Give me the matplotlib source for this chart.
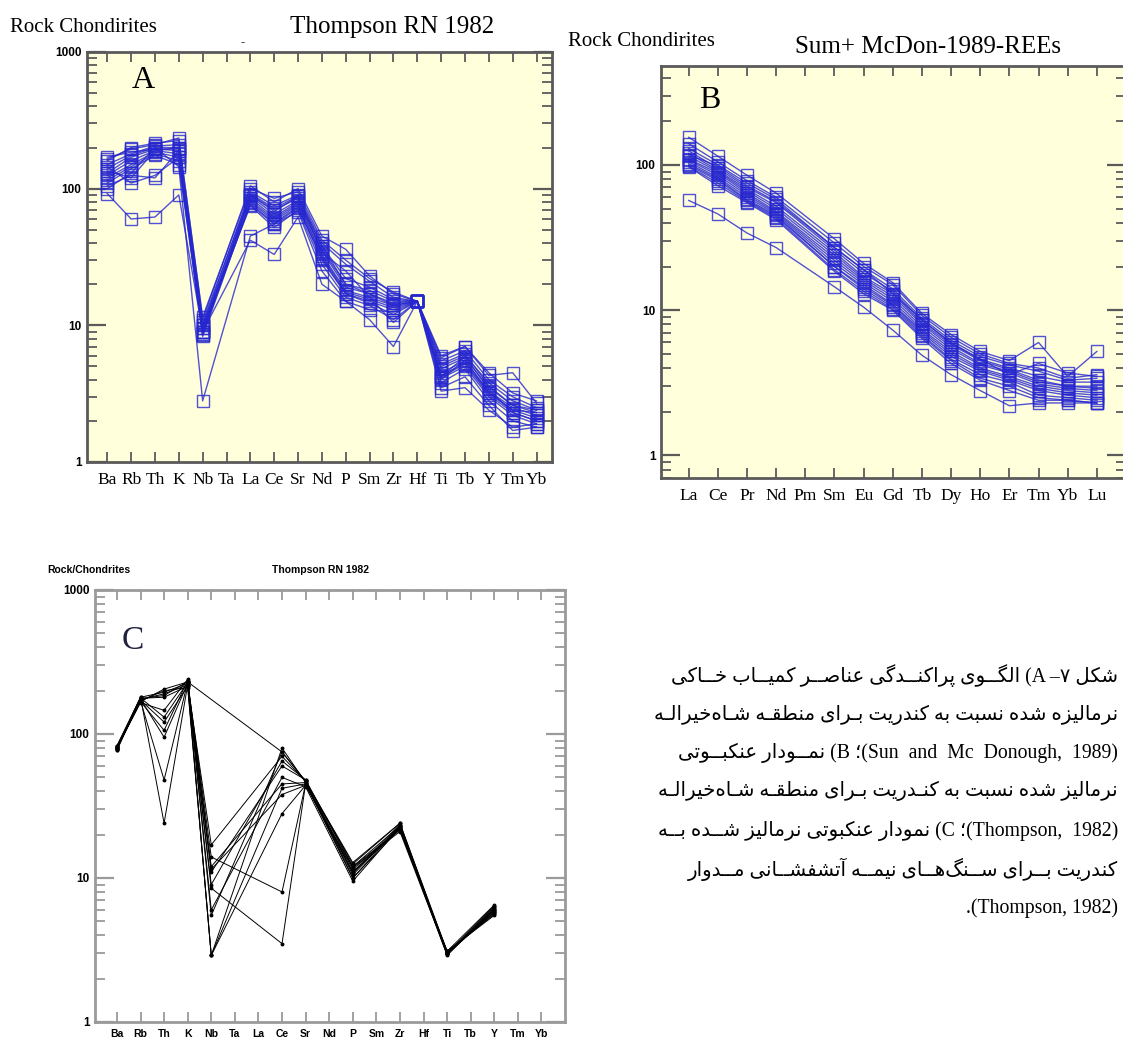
import numpy as np
import matplotlib
matplotlib.use("Agg")
import matplotlib.pyplot as plt
from matplotlib.ticker import LogLocator, NullFormatter, FuncFormatter
from matplotlib.font_manager import FontProperties

# ---------------- data ----------------
elems_thompson = ['Ba', 'Rb', 'Th', 'K', 'Nb', 'Ta', 'La', 'Ce', 'Sr', 'Nd', 'P', 'Sm',
                  'Zr', 'Hf', 'Ti', 'Tb', 'Y', 'Tm', 'Yb']
elems_ree = ['La', 'Ce', 'Pr', 'Nd', 'Pm', 'Sm', 'Eu', 'Gd', 'Tb', 'Dy', 'Ho', 'Er', 'Tm', 'Yb', 'Lu']
nan = np.nan

# Panel A (Thompson 1982 spider, blue squares)
a_s1 = [165, 195, 210, 235, 11, nan, 105, 80, 100, 45, 36, 23, 17, 15, 5.8, 7.0, 4.3, 4.5, 2.7]
a_s2 = [150, 180, 205, 210, 10, nan, 95, 75, 90, 40, 28, 21, 16, 15, 5.5, 6.5, 4.0, 3.0, 2.5]
a_s3 = [140, 175, 200, 200, 9.5, nan, 90, 70, 85, 38, 22, 19, 15.5, 15, 5.0, 6.0, 3.8, 2.8, 2.4]
a_s4 = [130, 170, 195, 190, 9, nan, 88, 65, 82, 36, 20, 18, 15, 15, 4.8, 5.8, 3.5, 2.6, 2.3]
a_s5 = [125, 160, 190, 180, 9, nan, 85, 62, 80, 35, 19, 17, 14.5, 15, 4.5, 5.5, 3.3, 2.5, 2.2]
a_s6 = [120, 150, 185, 170, 8.5, nan, 82, 60, 78, 33, 18, 16, 14, 15, 4.3, 5.3, 3.2, 2.4, 2.1]
a_s7 = [115, 145, 180, 160, 8.3, nan, 80, 58, 76, 32, 17.5, 15.5, 13.5, 15, 4.2, 5.2, 3.1, 2.3, 2.0]
a_s8 = [110, 140, 175, 150, 9, nan, 78, 56, 74, 30, 17, 15, 13, 15, 4.1, 5.0, 3.0, 2.2, 1.9]
a_s9 = [135, 120, 190, 200, 10, nan, 76, 55, 72, 31, 17, 14.5, 12, 15, 4.0, 5.6, 3.2, 2.4, 2.3]
a_s10 = [145, 110, 125, 170, 9.5, nan, 75, 52, 70, 28, 16, 14, 11, 15, 4.2, 5.9, 3.4, 2.3, 2.0]
a_s11 = [105, 125, 120, 190, 8.7, nan, 90, 68, 88, 34, 25, 16, 10.5, 15, 3.8, 4.8, 2.8, 2.0, 1.8]
a_s12 = [100, 130, 200, 145, 2.8, nan, 45, 55, 68, 25, 15, 13, 12.5, 15, 3.5, 4.2, 2.6, 1.7, 1.8]
a_s13 = [92, 60, 62, 90, 9, nan, 42, 33, 62, 20, 15, 11, 7, 15, 3.3, 3.5, 2.4, 1.8, 1.9]
a_s14 = [160, 200, 215, 225, 11.5, nan, 100, 85, 95, 42, 30, 22, 17.5, 15, 6.0, 7.0, 4.5, 3.2, 2.8]
a_s15 = [170, 185, 195, 195, 10.5, nan, 92, 72, 88, 38, 20, 17, 14, 15, 5.2, 6.2, 3.6, 2.6, 2.4]
panel_a = [a_s1, a_s2, a_s3, a_s4, a_s5, a_s6, a_s7, a_s8, a_s9, a_s10, a_s11, a_s12, a_s13, a_s14, a_s15]

# Panel B (Sun & McDonough 1989 REE, blue squares)
b_s1 = [155, 115, 85, 64, nan, 31, 21, 15.5, 9.5, 6.8, 5.2, 4.5, 6.0, 3.5, 5.2]
b_s2 = [140, 105, 78, 60, nan, 29, 20, 15, 9.2, 6.5, 5.0, 4.3, 4.0, 3.4, 3.6]
b_s3 = [130, 100, 75, 58, nan, 27, 19, 14, 8.8, 6.2, 4.8, 4.2, 3.8, 3.3, 3.4]
b_s4 = [125, 95, 70, 55, nan, 26, 18, 13.5, 8.5, 6.0, 4.6, 4.0, 3.5, 3.2, 3.2]
b_s5 = [120, 92, 68, 52, nan, 25, 17, 13, 8.2, 5.8, 4.5, 3.9, 3.3, 3.0, 3.0]
b_s6 = [115, 90, 66, 50, nan, 24, 16.5, 12.5, 8.0, 5.6, 4.3, 3.8, 3.2, 3.0, 2.9]
b_s7 = [110, 88, 64, 48, nan, 23, 16, 12, 7.7, 5.4, 4.2, 3.7, 3.1, 2.9, 2.8]
b_s8 = [108, 85, 62, 47, nan, 22, 15.5, 11.5, 7.4, 5.2, 4.0, 3.5, 3.0, 2.8, 2.7]
b_s9 = [105, 82, 60, 46, nan, 21, 15, 11, 7.2, 5.0, 3.9, 3.4, 2.9, 2.7, 2.6]
b_s10 = [102, 80, 58, 45, nan, 20, 14.5, 10.8, 7.0, 4.8, 3.8, 3.3, 2.8, 2.6, 2.5]
b_s11 = [100, 78, 57, 44, nan, 20, 14, 10.5, 6.8, 4.6, 3.6, 3.2, 2.6, 2.5, 2.4]
b_s12 = [98, 75, 56, 43, nan, 19, 13.5, 10.2, 6.6, 4.5, 3.4, 3.0, 2.5, 2.4, 2.3]
b_s13 = [97, 72, 55, 42, nan, 18.5, 13, 10, 6.4, 4.3, 3.3, 2.8, 2.4, 2.4, 2.3]
b_s14 = [57, 46, 34, 27, nan, 14.5, 10.5, 7.3, 4.9, 3.6, 2.8, 2.2, 2.3, 2.3, 2.3]
b_s15 = [118, 98, 72, 56, nan, 27, 19, 13, 8.6, 5.9, 4.6, 3.6, 4.3, 3.7, 3.5]
panel_b = [b_s1, b_s2, b_s3, b_s4, b_s5, b_s6, b_s7, b_s8, b_s9, b_s10, b_s11, b_s12, b_s13, b_s14, b_s15]

# Panel C (Thompson 1982 spider, black lines)
c_s1 = [80, 180, 24, 220, 17, nan, nan, 70, 47, nan, 12.5, nan, 24, nan, 3.1, nan, 6.5, nan, nan]
c_s2 = [82, 170, 48, 230, 14, nan, nan, 8, 45, nan, 11, nan, 22, nan, 3.0, nan, 6.0, nan, nan]
c_s3 = [78, 175, 95, 225, 12, nan, nan, 45, 46, nan, 10, nan, 23, nan, 3.0, nan, 5.8, nan, nan]
c_s4 = [81, 168, 106, 235, 11.5, nan, nan, 38, 44, nan, 11.5, nan, 22, nan, 2.95, nan, 6.2, nan, nan]
c_s5 = [79, 172, 121, 215, 9, nan, nan, 65, 48, nan, 12, nan, 21.5, nan, 3.1, nan, 5.6, nan, nan]
c_s6 = [83, 178, 131, 228, 8.5, nan, nan, 3.5, 45, nan, 10.5, nan, 23, nan, 3.05, nan, 5.9, nan, nan]
c_s7 = [80, 165, 146, 240, 6, nan, nan, 50, 43, nan, 9.5, nan, 22.5, nan, 2.9, nan, 6.1, nan, nan]
c_s8 = [77, 176, 185, 232, 5.5, nan, nan, 75, 47, nan, 12.8, nan, 24, nan, 3.0, nan, 6.4, nan, nan]
c_s9 = [82, 180, 195, 225, 2.9, nan, nan, 80, 46, nan, 11, nan, 23.5, nan, 3.0, nan, 5.7, nan, nan]
c_s10 = [80, 170, 200, 210, 2.9, nan, nan, 42, 45, nan, 10, nan, 22, nan, 3.1, nan, 5.5, nan, nan]
c_s11 = [79, 174, 190, 220, 2.9, nan, nan, 28, 44, nan, 11.8, nan, 21, nan, 2.95, nan, 6.3, nan, nan]
c_s12 = [81, 168, 205, 230, nan, nan, nan, 75, 47, nan, 12, nan, 23, nan, 3.0, nan, 6.0, nan, nan]
c_s13 = [80, 177, 180, 215, 11, nan, nan, 60, 48, nan, 10.8, nan, 22.5, nan, 3.05, nan, 5.8, nan, nan]
panel_c = [c_s1, c_s2, c_s3, c_s4, c_s5, c_s6, c_s7, c_s8, c_s9, c_s10, c_s11, c_s12, c_s13]

# ---------------- Persian shaping helper ----------------
FORMS = {
    'ا': ('\uFE8D', '\uFE8E', None, None), 'آ': ('\uFE81', '\uFE82', None, None),
    'ب': ('\uFE8F', '\uFE90', '\uFE91', '\uFE92'), 'پ': ('\uFB56', '\uFB57', '\uFB58', '\uFB59'),
    'ت': ('\uFE95', '\uFE96', '\uFE97', '\uFE98'), 'ج': ('\uFE9D', '\uFE9E', '\uFE9F', '\uFEA0'),
    'ح': ('\uFEA1', '\uFEA2', '\uFEA3', '\uFEA4'), 'خ': ('\uFEA5', '\uFEA6', '\uFEA7', '\uFEA8'),
    'د': ('\uFEA9', '\uFEAA', None, None), 'ر': ('\uFEAD', '\uFEAE', None, None),
    'ز': ('\uFEAF', '\uFEB0', None, None), 'س': ('\uFEB1', '\uFEB2', '\uFEB3', '\uFEB4'),
    'ش': ('\uFEB5', '\uFEB6', '\uFEB7', '\uFEB8'), 'ص': ('\uFEB9', '\uFEBA', '\uFEBB', '\uFEBC'),
    'ط': ('\uFEC1', '\uFEC2', '\uFEC3', '\uFEC4'), 'ع': ('\uFEC9', '\uFECA', '\uFECB', '\uFECC'),
    'ف': ('\uFED1', '\uFED2', '\uFED3', '\uFED4'), 'ق': ('\uFED5', '\uFED6', '\uFED7', '\uFED8'),
    'ک': ('\uFB8E', '\uFB8F', '\uFB90', '\uFB91'), 'گ': ('\uFB92', '\uFB93', '\uFB94', '\uFB95'),
    'ل': ('\uFEDD', '\uFEDE', '\uFEDF', '\uFEE0'), 'م': ('\uFEE1', '\uFEE2', '\uFEE3', '\uFEE4'),
    'ن': ('\uFEE5', '\uFEE6', '\uFEE7', '\uFEE8'), 'ه': ('\uFEE9', '\uFEEA', '\uFEEB', '\uFEEC'),
    'و': ('\uFEED', '\uFEEE', None, None), 'ی': ('\uFBFC', '\uFBFD', '\uFBFE', '\uFBFF'),
}
TATWEEL = '\u0640'


def _dual(c):
    return c == TATWEEL or (c in FORMS and FORMS[c][2] is not None)


def _joinable(c):
    return c == TATWEEL or c in FORMS


def shape(s):
    out = []
    for i, c in enumerate(s):
        if c not in FORMS:
            if c != '\u200c':
                out.append(c)
            continue
        prev = s[i - 1] if i > 0 else ''
        nxt = s[i + 1] if i + 1 < len(s) else ''
        jp = prev != '' and _dual(prev)
        jn = FORMS[c][2] is not None and nxt != '' and _joinable(nxt)
        iso, fin, ini, med = FORMS[c]
        out.append(med if (jp and jn) else fin if jp else ini if jn else iso)
    return ''.join(out)


def vis(s):
    return shape(s)[::-1]


# ---------------- figure ----------------
W, H = 1123, 1044
fig = plt.figure(figsize=(W / 100, H / 100), dpi=100)
fig.patch.set_facecolor('white')


def rect(l, t, r, b):
    return [l / W, 1 - b / H, (r - l) / W, (b - t) / H]


def ftext(x, y, s, **kw):
    return fig.text(x / W, 1 - y / H, s, **kw)


SERIF = ['Liberation Serif', 'DejaVu Serif']
BLUE = '#2626cf'

fp_ytick = FontProperties(family=['Liberation Sans', 'DejaVu Sans'], weight='bold', size=8.5)
fp_xtick_serif = FontProperties(family=SERIF, size=12.5)
fp_xtick_c = FontProperties(family=['Liberation Sans', 'DejaVu Sans'], weight='bold', size=7.5)


def style_log_axes(ax, labels, ylim, edge, yt_font, xt_font):
    ax.set_yscale('log')
    ax.set_ylim(*ylim)
    ax.yaxis.set_major_locator(LogLocator(base=10, numticks=10))
    ax.yaxis.set_minor_locator(LogLocator(base=10, subs=np.arange(2, 10), numticks=50))
    ax.yaxis.set_minor_formatter(NullFormatter())
    ax.yaxis.set_major_formatter(FuncFormatter(lambda v, p: '%d' % round(v)))
    ax.set_xticks(np.arange(len(labels)))
    ax.set_xticklabels(labels)
    ax.tick_params(which='both', direction='in', left=True, right=True, top=True, bottom=True,
                   color=edge)
    ax.tick_params(axis='y', which='major', length=14, width=1.6, pad=4)
    ax.tick_params(axis='y', which='minor', length=7, width=1.3)
    ax.tick_params(axis='x', which='major', length=7, width=1.3, pad=7)
    for lab in ax.get_yticklabels():
        lab.set_fontproperties(yt_font)
    for lab in ax.get_xticklabels():
        lab.set_fontproperties(xt_font)
    for sp in ax.spines.values():
        sp.set_color(edge)
        sp.set_linewidth(2)


def plot_series(ax, series, n, **kw):
    x = np.arange(n)
    for s in series:
        y = np.array(s, dtype=float)
        m = ~np.isnan(y)
        ax.plot(x[m], y[m], **kw)


# Panel A
axA = fig.add_axes(rect(87, 52, 552, 462))
axA.set_facecolor('#ffffdc')
plot_series(axA, panel_a, len(elems_thompson), color=BLUE, lw=1.0, alpha=0.8,
            marker='s', ms=8.5, mfc='none', mec=BLUE, mew=1.0)
axA.set_xlim(-0.85, 18.65)
style_log_axes(axA, elems_thompson, (1, 1000), '#5a5a5a', fp_ytick, fp_xtick_serif)
ftext(10, 28, 'Rock Chondirites', family=SERIF, fontsize=15, va='center', ha='left')
ftext(290, 27, 'Thompson RN 1982', family=SERIF, fontsize=18, va='center', ha='left')
ftext(243, 43, '-', family=SERIF, fontsize=9, va='center', ha='center', color='#444444')
ftext(143, 80, 'A', family=SERIF, fontsize=23, va='center', ha='center')

# Panel B
axB = fig.add_axes(rect(661, 66, 1126, 478))
axB.set_facecolor('#ffffdc')
plot_series(axB, panel_b, len(elems_ree), color=BLUE, lw=1.0, alpha=0.8,
            marker='s', ms=8.5, mfc='none', mec=BLUE, mew=1.0)
axB.set_xlim(-0.95, 15.0)
style_log_axes(axB, elems_ree, (0.7, 480), '#5a5a5a', fp_ytick, fp_xtick_serif)
ftext(568, 42, 'Rock Chondirites', family=SERIF, fontsize=15, va='center', ha='left')
ftext(795, 47, 'Sum+ McDon-1989-REEs', family=SERIF, fontsize=18, va='center', ha='left')
ftext(710, 100, 'B', family=SERIF, fontsize=23, va='center', ha='center')

# Panel C
axC = fig.add_axes(rect(95, 590, 565, 1022))
axC.set_facecolor('white')
plot_series(axC, panel_c, len(elems_thompson), color='black', lw=0.7,
            marker='o', ms=1.8, mfc='black', mec='black')
axC.set_xlim(-0.93, 19.0)
style_log_axes(axC, elems_thompson, (1, 1000), '#9a9a9a', fp_ytick, fp_xtick_c)
axC.tick_params(axis='x', which='major', pad=5)
ftext(47, 570, 'Rock/Chondrites', family=['Liberation Sans'], weight='bold', fontsize=7.5,
      va='center', ha='left')
ftext(272, 570, 'Thompson RN 1982', family=['Liberation Sans'], weight='bold', fontsize=7.5,
      va='center', ha='left')
ftext(133, 641, 'C', family=SERIF, fontsize=24, va='center', ha='center', color='#202040')

# Persian caption (pre-shaped, visual order), right-aligned, fitted to the column width
CAP = ['Liberation Serif', 'DejaVu Sans']
line1 = vis('الگــوی پراکنــدگی عناصــر کمیــاب خــاکی') + ' (A –۷ ' + vis('شکل')
line2 = vis('نرمالیزه شده نسبت به کندریت بـرای منطقـه شـاه\u200cخیرالـه')
line3 = vis('نمــودار عنکبــوتی') + ' (B ؛(Sun  and  Mc  Donough,  1989)'
line4 = vis('نرمالیز شده نسبت به کنـدریت بـرای منطقـه شـاه\u200cخیرالـه')
line5 = vis('نمودار عنکبوتی نرمالیز شــده بــه') + ' (C ؛(Thompson,  1982)'
line6 = vis('کندریت بــرای ســنگ\u200cهــای نیمــه آتشفشــانی مــدوار')
line7 = '.(Thompson, 1982)'
lines = [line1, line2, line3, line4, line5, line6, line7]
ys = [676, 715, 753, 791, 831, 869, 908]
X_RIGHT, X_LEFT = 1118, 655
base = 14.5
texts = [ftext(X_RIGHT, y, s, family=CAP, fontsize=base, va='center', ha='right')
         for s, y in zip(lines, ys)]
fig.canvas.draw()
renderer = fig.canvas.get_renderer()
widths = [t.get_window_extent(renderer).width for t in texts[:6]]
size = min(base * (X_RIGHT - X_LEFT) / w for w in widths)
size = min(size, 15.5)
for t in texts:
    t.set_fontsize(size)

fig.savefig('out.png', dpi=100, facecolor='white')
